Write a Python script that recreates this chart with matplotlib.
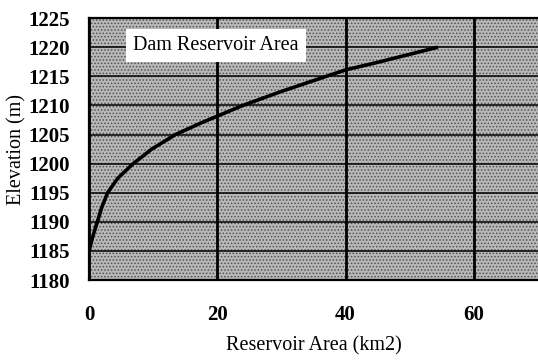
import matplotlib.pyplot as plt
from matplotlib.patches import Rectangle

# reservoir area (km2) vs elevation (m)
area = [0, 0.6, 1.3, 2.0, 2.9, 4.5, 6.9, 9.8, 13.5, 17.5, 24, 30, 37, 40, 45, 54.4]
elevation = [1185, 1187.5, 1190, 1192.5, 1195, 1197.5, 1200, 1202.5, 1205,
             1207.0, 1210, 1212.4, 1215, 1216.1, 1217.4, 1220]

x_ticks = [0, 20, 40, 60]
y_ticks = list(range(1180, 1226, 5))
legend_label = 'Dam Reservoir Area'

plt.rcParams['font.family'] = ['Liberation Serif', 'DejaVu Serif']
plt.rcParams['hatch.linewidth'] = 0.7

fig = plt.figure(figsize=(5.38, 3.62), dpi=100)
ax = fig.add_axes([0.1654, 0.2265, 0.8346, 0.7235])

# stippled grey plot area
ax.patch.set_facecolor('none')
bg = Rectangle((0, 0), 1, 1, transform=ax.transAxes, facecolor='#b8b8b8',
               edgecolor='#505050', hatch='.....', lw=0, zorder=0)
ax.add_patch(bg)

ax.plot(area, elevation, color='black', lw=2.6, solid_capstyle='butt', zorder=3)

ax.set_xlim(0, 70)
ax.set_ylim(1180, 1225)
ax.set_xticks(x_ticks)
ax.set_yticks(y_ticks)
ax.tick_params(length=0, labelsize=15)
ax.tick_params(axis='x', pad=18)
ax.tick_params(axis='y', pad=14)
for lab in ax.get_xticklabels() + ax.get_yticklabels():
    lab.set_fontweight('bold')

ax.grid(axis='x', color='black', lw=2.0, zorder=1)
ax.grid(axis='y', color='black', lw=1.1, zorder=1)
ax.set_axisbelow(True)

for s in ax.spines.values():
    s.set_linewidth(1.6)
ax.spines['top'].set_linestyle((0, (2, 1)))
ax.spines['right'].set_visible(False)

ax.set_xlabel('Reservoir Area (km2)', fontsize=14.5, labelpad=8)
ax.set_ylabel('Elevation (m)', fontsize=14.5, labelpad=1)

ax.text(6.9, 1220.3, legend_label, fontsize=14.5, va='center', ha='left',
        zorder=4, bbox=dict(facecolor='white', edgecolor='none', pad=5))

fig.savefig('out.png', dpi=100)
